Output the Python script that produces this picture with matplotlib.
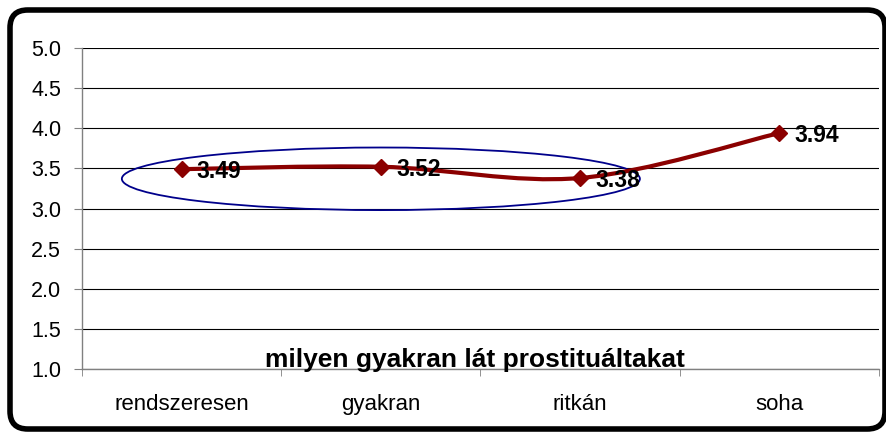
import matplotlib
matplotlib.use("Agg")
import matplotlib.pyplot as plt
from matplotlib.patches import Ellipse, FancyBboxPatch, PathPatch
from matplotlib.path import Path

categories = ["rendszeresen", "gyakran", "ritkán", "soha"]
values = [3.49, 3.52, 3.38, 3.94]
y_ticks = [1.0, 1.5, 2.0, 2.5, 3.0, 3.5, 4.0, 4.5, 5.0]
axis_title = "milyen gyakran lát prostituáltakat"

RED = "#8B0000"
FONT = "Liberation Sans"

plt.rcParams["font.family"] = [FONT, "DejaVu Sans"]

W, H = 887, 434
fig = plt.figure(figsize=(W / 100, H / 100), dpi=100)

# rounded outer frame
frame = FancyBboxPatch((10 / W, 5 / H), 875 / W, 419 / H,
                       boxstyle="round,pad=0,rounding_size=0.02",
                       transform=fig.transFigure, facecolor="none",
                       edgecolor="black", linewidth=4, mutation_aspect=W / H,
                       zorder=10)
fig.patches.append(frame)

ax = fig.add_axes([82 / W, 1 - 369 / H, 797 / W, 321 / H])
ax.set_facecolor("none")

xs = list(range(len(values)))

# smoothed line (Catmull-Rom through the points, as Excel does)
verts = [(xs[0], values[0])]
codes = [Path.MOVETO]
for i in range(len(xs) - 1):
    p0 = (xs[max(i - 1, 0)], values[max(i - 1, 0)])
    p1 = (xs[i], values[i])
    p2 = (xs[i + 1], values[i + 1])
    p3 = (xs[min(i + 2, len(xs) - 1)], values[min(i + 2, len(xs) - 1)])
    c1 = (p1[0] + (p2[0] - p0[0]) / 6, p1[1] + (p2[1] - p0[1]) / 6)
    c2 = (p2[0] - (p3[0] - p1[0]) / 6, p2[1] - (p3[1] - p1[1]) / 6)
    verts += [c1, c2, p2]
    codes += [Path.CURVE4] * 3
ax.add_patch(PathPatch(Path(verts, codes), facecolor="none", edgecolor=RED,
                       linewidth=3, zorder=3))
ax.plot(xs, values, linestyle="none", marker="D", markersize=8.5, color=RED,
        zorder=4)

for x, v in zip(xs, values):
    ax.annotate(f"{v:.2f}", (x, v), xytext=(11, 0), textcoords="offset points",
                ha="left", va="center_baseline", fontsize=16.5,
                fontweight="bold", zorder=5)

# highlight ellipse around the first three points
ax.add_patch(Ellipse((1.0, 3.37), 2.6, 0.78, facecolor="none",
                     edgecolor="#00008B", linewidth=1.3, zorder=2))

ax.text(1.47, 1.03, axis_title, ha="center", va="baseline", fontsize=19,
        fontweight="bold")

ax.set_xlim(-0.5, len(values) - 0.5)
ax.set_ylim(1.0, 5.0)
ax.set_yticks(y_ticks)
ax.set_yticklabels([f"{t:.1f}" for t in y_ticks])
ax.set_xticks(xs)
ax.set_xticklabels(categories)
ax.set_xticks([i - 0.5 for i in range(len(values) + 1)], minor=True)
ax.tick_params(axis="x", which="major", length=0, pad=18, labelsize=16)
ax.tick_params(axis="x", which="minor", length=5, color="#808080")
ax.tick_params(axis="y", length=6, color="#808080", labelsize=15.5, pad=9)
ax.grid(axis="y", color="black", linewidth=0.8, zorder=1)
for s in ("top", "right"):
    ax.spines[s].set_visible(False)
for s in ("left", "bottom"):
    ax.spines[s].set_color("#808080")
    ax.spines[s].set_linewidth(1)

fig.savefig("out.png", dpi=100)
